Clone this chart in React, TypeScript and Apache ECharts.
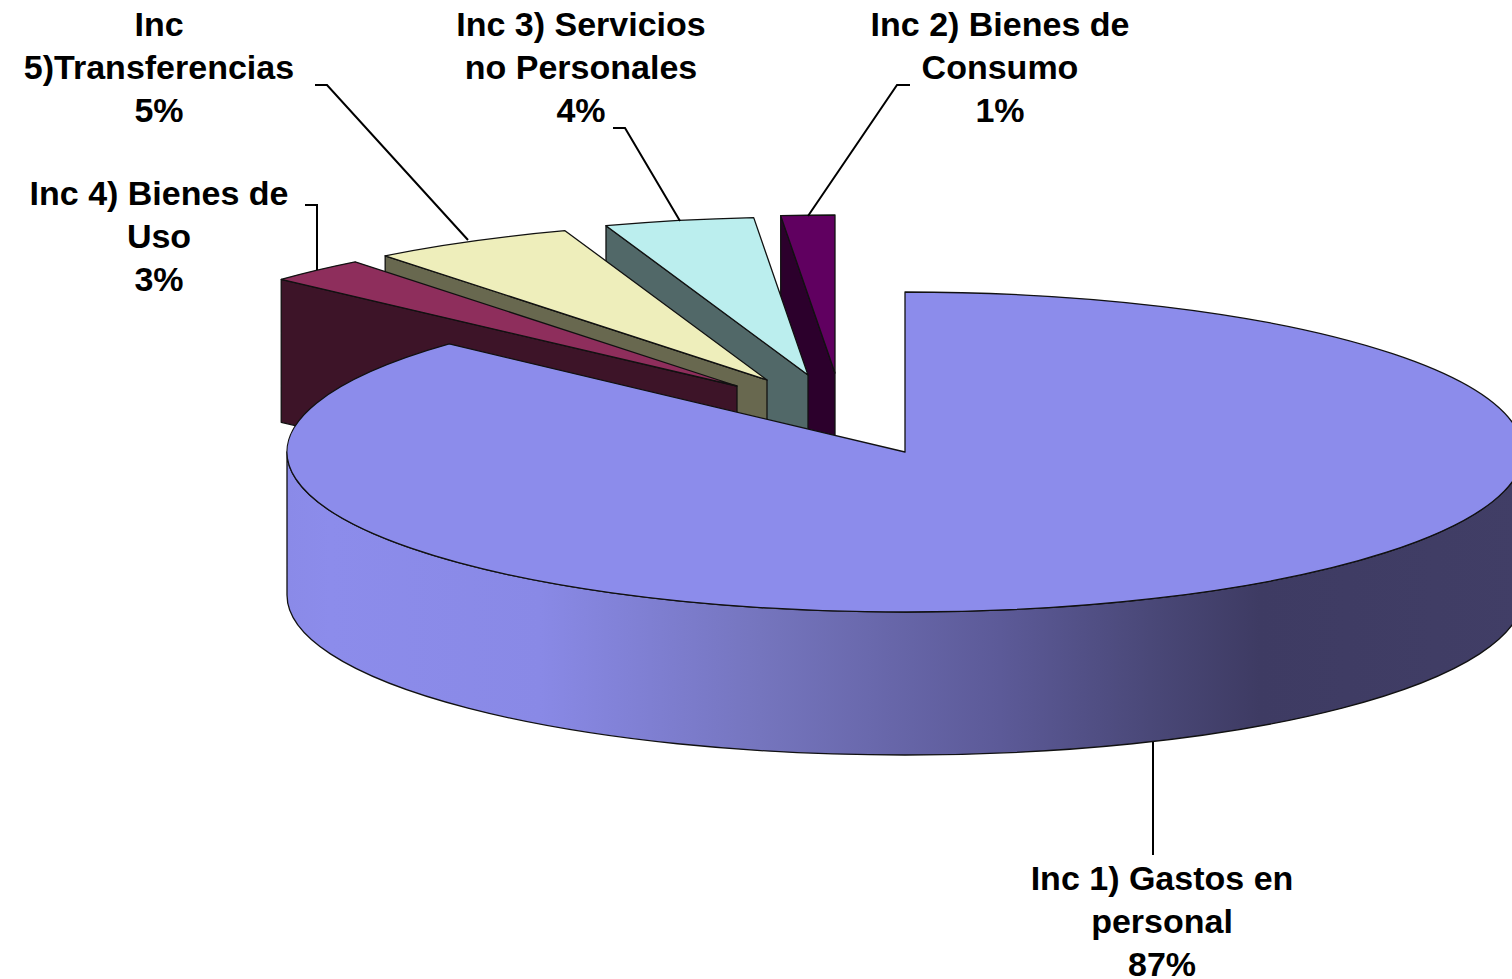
import React, { useEffect, useRef } from "react";
import * as echarts from "echarts";

// Data: drawn back to front. Slices run counter-clockwise from twelve o'clock.
const categories = [
  "Inc 2) Bienes de\nConsumo",
  "Inc 3) Servicios\nno Personales",
  "Inc\n5)Transferencias",
  "Inc 4) Bienes de\nUso",
  "Inc 1) Gastos en\npersonal",
];
const shares = [1.4, 3.9, 5.3, 2.6, 86.8];

// Styles and layout
const topColors = ["#600060", "#BBEEEE", "#EEEEBB", "#8E2E5C", "#8C8CEB"];
const wallColors = ["#2C002C", "#516868", "#68684F", "#3D1428", "#8C8CEB"];
const apexes = [
  [835, 373],
  [808, 375],
  [767, 380],
  [737, 386],
  [905, 452],
];
const radiiY = [158, 158, 158, 158, 160];
const RX = 618;
const DEPTH = 143;
const FONT = 'bold 34px "Liberation Sans", Arial, sans-serif';
const labelPositions = [
  [1000, 67],
  [581, 67],
  [159, 67],
  [159, 236],
  [1162, 921],
];
const leaders = [
  [[910, 85], [897, 85], [808, 216]],
  [[613, 128], [625, 128], [680, 221]],
  [[315, 85], [327, 85], [468, 240]],
  [[305, 205], [317, 205], [317, 270]],
  [[1153, 742], [1153, 855]],
];
const sideStops: [number, string][] = [
  [287, "#8A8AE8"],
  [330, "#8C8CEB"],
  [540, "#8989E6"],
  [760, "#7575BE"],
  [1000, "#5C5A98"],
  [1150, "#4A4878"],
  [1260, "#3E3B63"],
  [1523, "#413E66"],
];

const total = shares.reduce((a, b) => a + b, 0);
const DEG = Math.PI / 180;

function renderItem(params: any, api: any) {
  const i = params.dataIndex;
  const value = api.value(0);
  let before = 0;
  for (let k = 0; k < i; k++) before += shares[k];
  const endA = (-before / total) * 360;
  const startA = endA - (value / total) * 360;
  const [ax, ay] = apexes[i];
  const ry = radiiY[i];
  const pt = (deg: number, dy = 0) => [
    ax + RX * Math.sin(deg * DEG),
    ay - ry * Math.cos(deg * DEG) + dy,
  ];
  const p1 = pt(startA);
  const p2 = pt(endA);
  const large = endA - startA > 180 ? 1 : 0;
  const lineStyle = { stroke: "#111", lineWidth: 1.3, lineJoin: "round" };
  const top = `M${ax} ${ay}L${p1[0]} ${p1[1]}A${RX} ${ry} 0 ${large} 1 ${p2[0]} ${p2[1]}Z`;
  const children: any[] = [];
  if (i === shares.length - 1) {
    const r = pt(90);
    const b = pt(180);
    const l = pt(270);
    const rd = pt(90, DEPTH);
    const bd = pt(180, DEPTH);
    const ld = pt(270, DEPTH);
    const side =
      `M${r[0]} ${r[1]}A${RX} ${ry} 0 0 1 ${b[0]} ${b[1]}A${RX} ${ry} 0 0 1 ${l[0]} ${l[1]}` +
      `L${ld[0]} ${ld[1]}A${RX} ${ry} 0 0 0 ${bd[0]} ${bd[1]}A${RX} ${ry} 0 0 0 ${rd[0]} ${rd[1]}Z`;
    const x0 = sideStops[0][0];
    const span = sideStops[sideStops.length - 1][0] - x0;
    children.push({
      type: "path",
      shape: { pathData: side },
      style: {
        ...lineStyle,
        fill: new echarts.graphic.LinearGradient(
          0,
          0,
          1,
          0,
          sideStops.map(([x, color]) => ({ offset: (x - x0) / span, color }))
        ),
      },
    });
  } else {
    const wall = `M${p1[0]} ${p1[1]}L${ax} ${ay}L${ax} ${ay + DEPTH}L${p1[0]} ${p1[1] + DEPTH}Z`;
    children.push({
      type: "path",
      shape: { pathData: wall },
      style: { ...lineStyle, fill: wallColors[i] },
    });
  }
  children.push({
    type: "path",
    shape: { pathData: top },
    style: { ...lineStyle, fill: topColors[i] },
  });
  return { type: "group", children };
}

export default function App() {
  const ref = useRef<HTMLDivElement>(null);
  useEffect(() => {
    document.body.style.margin = "0";
    const chart = echarts.init(ref.current!, undefined, { renderer: "svg" });
    const labels = categories.map((name, i) => ({
      type: "text",
      silent: true,
      z: 20,
      style: {
        text: `${name}\n${Math.round((shares[i] / total) * 100)}%`,
        x: labelPositions[i][0],
        y: labelPositions[i][1],
        align: "center",
        verticalAlign: "middle",
        font: FONT,
        lineHeight: 43,
        fill: "#000",
      },
    }));
    const leaderLines = leaders.map((points) => ({
      type: "polyline",
      silent: true,
      z: 20,
      shape: { points },
      style: { stroke: "#000", lineWidth: 2, fill: "none" },
    }));
    chart.setOption({
      animation: false,
      backgroundColor: "#fff",
      series: [
        {
          type: "custom",
          coordinateSystem: "none",
          silent: true,
          clip: false,
          renderItem,
          data: shares.map((v, i) => ({ name: categories[i], value: [v] })),
        },
      ],
      graphic: { elements: [...leaderLines, ...labels] },
    });
    return () => chart.dispose();
  }, []);
  return <div ref={ref} style={{ width: 1512, height: 979 }} />;
}
